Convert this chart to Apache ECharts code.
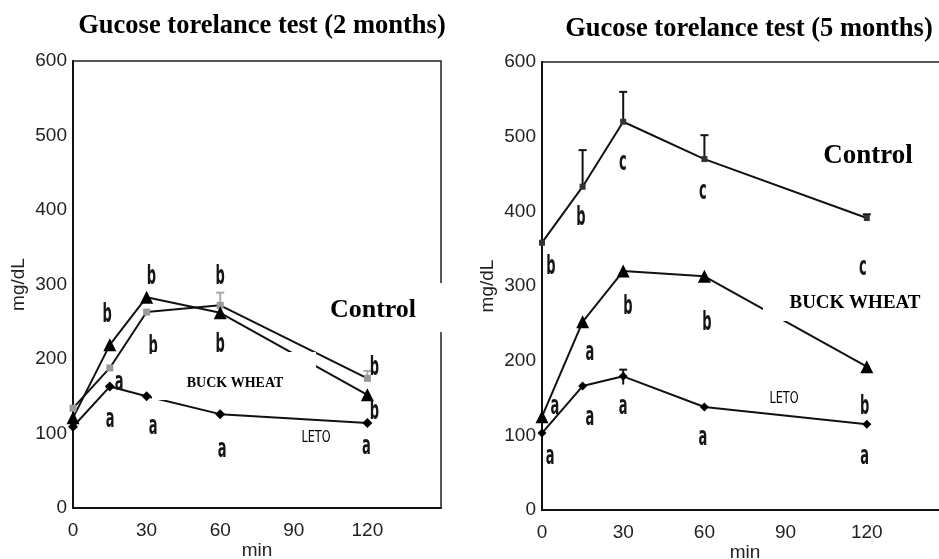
<!DOCTYPE html>
<html>
<head>
<meta charset="utf-8">
<script src="https://cdn.jsdelivr.net/npm/echarts@6/dist/echarts.min.js"></script>
<style>
html,body{margin:0;padding:0;background:#fff;}
#chart{width:939px;height:559px;}
</style>
</head>
<body>
<div id="chart"></div>
<script>
// ---- data ----
const minutes = [0, 15, 30, 60, 120];
const xTicks = [0, 30, 60, 90, 120];

// 2 months
const control2 = [134, 188, 263, 272, 174];
const control2ErrHigh = [null, null, null, 289, 184];
const buckwheat2 = [121, 219, 283, 262, 152];
const leto2 = [109, 163, 150, 126, 114];
const letters2 = [
  [32, 310, 'b'], [60, 310, 'b'], [13.9, 259, 'b'], [32.7, 216, 'b'], [60, 219, 'b'],
  [18.8, 168, 'a'], [15.1, 118, 'a'], [32.7, 109, 'a'], [60.8, 78, 'a'], [119.6, 81, 'a'],
  [122.9, 188, 'b'], [122.9, 128, 'b']
];

// 5 months
const control5 = [358, 433, 520, 470, 391];
const control5ErrHigh = [null, 482, 560, 502, 396];
const buckwheat5 = [125, 252, 320, 313, 192];
const leto5 = [103, 166, 179, 138, 115];
const leto5ErrLow = [null, null, 168, null, null];
const leto5ErrHigh = [null, null, 188, null, null];
const letters5 = [
  [3.3, 325, 'b'], [14.4, 391, 'b'], [29.9, 465, 'c'], [59.4, 426, 'c'], [118.5, 324, 'c'],
  [31.7, 271, 'b'], [60.9, 250, 'b'], [17.7, 210, 'a'], [4.8, 137, 'a'], [17.7, 123, 'a'],
  [30, 137, 'a'], [3, 71, 'a'], [59.4, 96, 'a'], [119.2, 138, 'b'], [119.2, 70, 'a']
];

// ---- helpers ----
const pts = arr => minutes.map((m, i) => [m, arr[i]]);
const errPts = (lo, hi) => minutes.map((m, i) => hi[i] == null ? null : [m, lo[i], hi[i]]).filter(Boolean);

function errorRender(color) {
  return function (params, api) {
    const x = api.value(0), lo = api.value(1), hi = api.value(2);
    const p1 = api.coord([x, lo]);
    const p2 = api.coord([x, hi]);
    return {
      type: 'group',
      children: [
        { type: 'line', shape: { x1: p1[0], y1: p1[1], x2: p2[0], y2: p2[1] }, style: { stroke: color, lineWidth: 2 } },
        { type: 'line', shape: { x1: p2[0] - 4, y1: p2[1], x2: p2[0] + 4, y2: p2[1] }, style: { stroke: color, lineWidth: 2 } }
      ]
    };
  };
}

const letters = { L2: letters2, L5: letters5 };
function letterRender(params, api) {
  const p = api.coord([api.value(0), api.value(1)]);
  return {
    type: 'text', x: p[0], y: p[1], scaleX: 0.5,
    style: {
      text: letters[params.seriesName][params.dataIndex][2],
      fontFamily: 'DejaVu Sans, sans-serif', fontSize: 26, fontWeight: 'bold',
      fill: '#151515', align: 'center', verticalAlign: 'middle'
    }
  };
}

const axisFont = { fontFamily: 'Liberation Sans, Arial, sans-serif', fontSize: 19, color: '#222' };

function xAxisDef(gi) {
  return {
    gridIndex: gi, type: 'value', min: 0, max: 150, interval: 30,
    axisLine: { lineStyle: { color: '#111', width: 2 } },
    axisTick: { show: false },
    splitLine: { show: false },
    axisLabel: Object.assign({ margin: 13, formatter: v => xTicks.includes(v) ? String(v) : '' }, axisFont),
    name: 'min', nameLocation: 'middle', nameGap: 33, nameMoveOverlap: false,
    nameTextStyle: { fontFamily: 'Liberation Sans, Arial, sans-serif', fontSize: 19, color: '#222' }
  };
}
function yAxisDef(gi) {
  return {
    gridIndex: gi, type: 'value', min: 0, max: 600, interval: 100,
    axisLine: { show: true, lineStyle: { color: '#111', width: 2 } },
    axisTick: { show: false },
    splitLine: { show: false },
    axisLabel: Object.assign({ margin: 6 }, axisFont),
    name: 'mg/dL', nameLocation: 'middle', nameGap: 45, nameMoveOverlap: false,
    nameTextStyle: { fontFamily: 'Liberation Sans, Arial, sans-serif', fontSize: 19, color: '#222' }
  };
}

function lineSeries(gi, data, symbol, size, color) {
  return {
    type: 'line', xAxisIndex: gi, yAxisIndex: gi, data: pts(data),
    symbol: symbol, symbolSize: size, showSymbol: true,
    lineStyle: { color: '#111', width: 2 },
    itemStyle: { color: color, borderWidth: 0 },
    z: 3, silent: true, animation: false
  };
}
function letterSeries(gi, name, data) {
  return {
    type: 'custom', name: name, xAxisIndex: gi, yAxisIndex: gi,
    data: data.map(d => [d[0], d[1]]),
    renderItem: letterRender, silent: true, z: 5
  };
}

const serifBold = '"Liberation Serif", "Times New Roman", serif';
function txt(x, y, text, font, size, weight, sx) {
  return {
    type: 'text', x: x, y: y, z: 101, scaleX: sx || 1,
    style: {
      text: text, fontFamily: font, fontSize: size, fontWeight: weight || 'normal',
      fill: '#000', textAlign: 'center', textVerticalAlign: 'middle', align: 'center', verticalAlign: 'middle'
    }
  };
}
function box(x, y, w, h) {
  return { type: 'rect', shape: { x: x, y: y, width: w, height: h }, style: { fill: '#fff' }, z: 100 };
}

const chart = echarts.init(document.getElementById('chart'), null, { renderer: 'canvas' });
chart.setOption({
  animation: false,
  backgroundColor: '#fff',
  grid: [
    { left: 73, top: 61, width: 368, height: 447, show: true, borderColor: '#222', borderWidth: 1.5, backgroundColor: 'transparent', containLabel: false, outerBoundsMode: 'none' },
    { left: 542, top: 62, width: 406, height: 448, show: true, borderColor: '#222', borderWidth: 1.5, backgroundColor: 'transparent', containLabel: false, outerBoundsMode: 'none' }
  ],
  xAxis: [xAxisDef(0), xAxisDef(1)],
  yAxis: [yAxisDef(0), yAxisDef(1)],
  series: [
    lineSeries(0, control2, 'rect', 7, '#999'),
    lineSeries(0, buckwheat2, 'triangle', 13, '#000'),
    lineSeries(0, leto2, 'diamond', 10, '#000'),
    { type: 'custom', xAxisIndex: 0, yAxisIndex: 0, data: errPts(control2, control2ErrHigh), renderItem: errorRender('#aaa'), silent: true, z: 2 },
    letterSeries(0, 'L2', letters2),

    lineSeries(1, control5, 'rect', 6, '#333'),
    lineSeries(1, buckwheat5, 'triangle', 13, '#000'),
    lineSeries(1, leto5, 'diamond', 9, '#000'),
    { type: 'custom', xAxisIndex: 1, yAxisIndex: 1, data: errPts(control5, control5ErrHigh), renderItem: errorRender('#111'), silent: true, z: 2 },
    { type: 'custom', xAxisIndex: 1, yAxisIndex: 1, data: errPts(leto5ErrLow, leto5ErrHigh), renderItem: errorRender('#111'), silent: true, z: 2 },
    letterSeries(1, 'L5', letters5)
  ],
  graphic: [
    txt(262, 26, 'Gucose torelance test (2 months)', serifBold, 26.5, 'bold'),
    txt(749, 29, 'Gucose torelance test (5 months)', serifBold, 26.5, 'bold'),
    box(325, 283, 122, 49),
    txt(373, 310, 'Control', serifBold, 26, 'bold'),
    box(152, 352, 164, 48),
    txt(235, 383, 'BUCK WHEAT', serifBold, 14, 'bold'),
    txt(316, 438, 'LETO', 'DejaVu Sans, sans-serif', 15, 'normal', 0.75),
    txt(868, 156, 'Control', serifBold, 27, 'bold'),
    box(763, 282, 168, 39),
    txt(855, 303, 'BUCK WHEAT', serifBold, 19, 'bold'),
    txt(784, 399, 'LETO', 'DejaVu Sans, sans-serif', 15, 'normal', 0.75)
  ]
});
</script>
</body>
</html>
